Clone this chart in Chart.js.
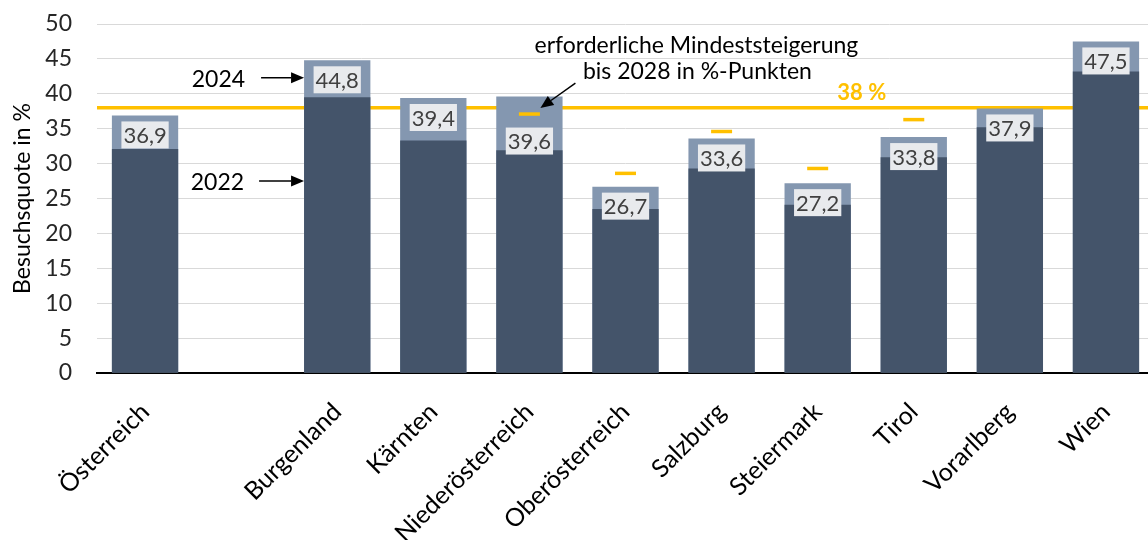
<!DOCTYPE html>
<html><head><meta charset="utf-8">
<script src="https://cdn.jsdelivr.net/npm/chart.js@4"></script>
<style>
html,body{margin:0;padding:0;overflow:hidden;background:#fff;width:1148px;height:540px}
#wrap{width:1168px;height:540px}
</style></head>
<body><div id="wrap"><canvas id="c" width="1168" height="540"></canvas></div>
<script>
const categories = ['Österreich', '', 'Burgenland', 'Kärnten', 'Niederösterreich', 'Oberösterreich', 'Salzburg', 'Steiermark', 'Tirol', 'Vorarlberg', 'Wien'];
const quote2022 = [32.1, null, 39.5, 33.3, 31.9, 23.5, 29.3, 24.1, 30.9, 35.2, 43.2];
const quote2024 = [36.9, null, 44.8, 39.4, 39.6, 26.7, 33.6, 27.2, 33.8, 37.9, 47.5];
const mindestSteigerung = [null, null, null, null, 37.1, 28.6, 34.6, 29.3, 36.3, null, null];
const zielQuote = 38;
const yTickValues = [0, 5, 10, 15, 20, 25, 30, 35, 40, 45, 50];

const FONT = 'Lato';
const DARK = '#44546A', LIGHT = '#8497B0', GOLD = '#FFC000';

function arrow(ctx, x1, y1, x2, y2) {
  const a = Math.atan2(y2 - y1, x2 - x1), L = 13, H = 5.5;
  ctx.save();
  ctx.strokeStyle = '#000'; ctx.fillStyle = '#000'; ctx.lineWidth = 1.5;
  ctx.beginPath(); ctx.moveTo(x1, y1);
  ctx.lineTo(x2 - L * Math.cos(a), y2 - L * Math.sin(a)); ctx.stroke();
  ctx.beginPath(); ctx.moveTo(x2, y2);
  ctx.lineTo(x2 - L * Math.cos(a) + H * Math.sin(a), y2 - L * Math.sin(a) - H * Math.cos(a));
  ctx.lineTo(x2 - L * Math.cos(a) - H * Math.sin(a), y2 - L * Math.sin(a) + H * Math.cos(a));
  ctx.closePath(); ctx.fill();
  ctx.restore();
}

const targetLine = {
  id: 'targetLine',
  beforeDatasetsDraw(chart) {
    const { ctx, chartArea, scales } = chart;
    const y = scales.y.getPixelForValue(zielQuote);
    ctx.save();
    ctx.strokeStyle = GOLD; ctx.lineWidth = 3.5;
    ctx.beginPath(); ctx.moveTo(chartArea.left, y); ctx.lineTo(chartArea.right, y); ctx.stroke();
    const xm = (scales.x.getPixelForValue(7) + scales.x.getPixelForValue(8)) / 2 - 4;
    ctx.fillStyle = GOLD; ctx.font = 'bold 22px ' + FONT;
    ctx.textAlign = 'center'; ctx.textBaseline = 'middle';
    ctx.fillText(zielQuote + ' %', xm, y - 15);
    ctx.restore();
  }
};

const valueLabels = {
  id: 'valueLabels',
  afterDatasetsDraw(chart) {
    const { ctx, scales } = chart;
    const meta = chart.getDatasetMeta(1);
    ctx.save();
    ctx.font = '22px ' + FONT;
    ctx.textAlign = 'center'; ctx.textBaseline = 'middle';
    meta.data.forEach((bar, i) => {
      const v = quote2024[i];
      if (v == null) return;
      let cy = bar.y + 19.5;
      const m = mindestSteigerung[i];
      if (m != null && m < v) cy = Math.max(cy, scales.y.getPixelForValue(m) + 27);
      const txt = v.toFixed(1).replace('.', ',');
      const w = ctx.measureText(txt).width;
      ctx.fillStyle = '#E8EAED';
      ctx.fillRect(bar.x - w / 2 - 2, cy - 13.5, w + 4, 27);
      ctx.fillStyle = '#404040';
      ctx.fillText(txt, bar.x, cy + 1);
    });
    ctx.restore();
  },
  afterDraw(chart) {
    const { ctx, scales } = chart;
    const bl = chart.getDatasetMeta(1).data[2];
    const left = bl.x - bl.width / 2;
    const y24 = scales.y.getPixelForValue(42.3);
    const y22 = scales.y.getPixelForValue(27.5);
    ctx.save();
    ctx.font = '23px ' + FONT; ctx.fillStyle = '#000';
    ctx.textAlign = 'right'; ctx.textBaseline = 'middle';
    arrow(ctx, left - 43, y24, left, y24);
    ctx.fillText('2024', left - 59, y24 + 2);
    arrow(ctx, left - 45, y22, left, y22);
    ctx.fillText('2022', left - 60, y22 + 2);
    const pt = chart.getDatasetMeta(2).data[4];
    const tipX = pt.x + 11, tipY = pt.y - 6;
    const sx = tipX + 35, sy = tipY - 25;
    arrow(ctx, sx, sy, tipX, tipY);
    ctx.textAlign = 'center';
    ctx.fillText('erforderliche Mindeststeigerung', sx + 121, sy - 37);
    ctx.fillText('bis 2028 in %-Punkten', sx + 122, sy - 11);
    ctx.restore();
  }
};

function draw() {
  Chart.defaults.font.family = FONT;
  new Chart(document.getElementById('c'), {
    type: 'bar',
    data: {
      labels: categories,
      datasets: [
        { label: '2022', data: quote2022, backgroundColor: DARK, grouped: false, order: 1,
          barPercentage: 0.69, categoryPercentage: 1 },
        { label: '2024', data: quote2024, backgroundColor: LIGHT, grouped: false, order: 2,
          barPercentage: 0.69, categoryPercentage: 1 },
        { type: 'line', label: 'Mindeststeigerung', data: mindestSteigerung, showLine: false,
          pointStyle: 'line', pointRadius: 10.5, pointHoverRadius: 10.5, pointBorderWidth: 3.5,
          borderColor: GOLD, backgroundColor: GOLD, order: 0 }
      ]
    },
    options: {
      responsive: false, animation: false, devicePixelRatio: 1,
      layout: { padding: { top: 24, right: 6, left: 0, bottom: 0 } },
      plugins: { legend: { display: false }, tooltip: { enabled: false } },
      scales: {
        x: {
          offset: true,
          grid: { display: false, drawTicks: false },
          border: { display: true, color: '#000', width: 2 },
          ticks: { font: { size: 25, family: FONT }, color: '#000', maxRotation: 45, minRotation: 45,
                   autoSkip: false, padding: 24 },
          afterFit(s) { s.height = 167; }
        },
        y: {
          min: 0, max: 50,
          afterBuildTicks(s) { s.ticks = yTickValues.map(v => ({ value: v })); },
          grid: { color: '#D9D9D9', lineWidth: 1, drawTicks: true, tickLength: 22, tickColor: 'rgba(0,0,0,0)' },
          border: { display: false },
          ticks: { font: { size: 23, family: FONT }, color: '#262626', padding: 3 },
          title: { display: true, text: 'Besuchsquote in %', font: { size: 23, family: FONT },
                   color: '#000', padding: { top: 9, bottom: 0 } },
          afterFit(s) { s.width = 97; }
        }
      }
    },
    plugins: [targetLine, valueLabels]
  });
}
if (document.fonts && document.fonts.load) {
  Promise.all([document.fonts.load('22px Lato'), document.fonts.load('bold 22px Lato')]).then(draw, draw);
} else draw();
</script>
</body></html>
